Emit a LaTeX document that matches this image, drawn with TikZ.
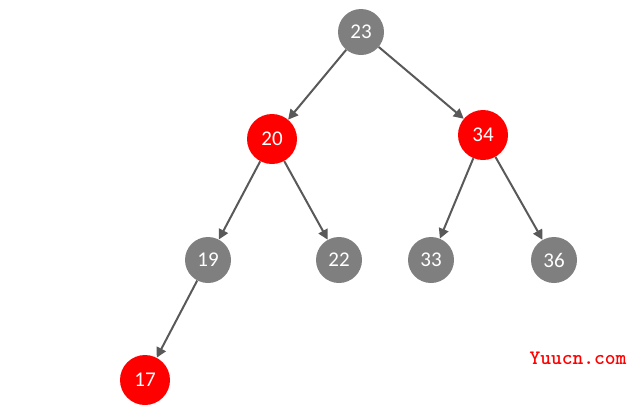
\documentclass[tikz,border=0pt]{standalone}
\usepackage{fontspec}
\setmainfont{Carlito}
\usepackage{xcolor}
\usepackage{tikz}
\usetikzlibrary{arrows.meta}
\definecolor{nodegray}{RGB}{127, 127, 127}
\definecolor{nodered}{RGB}{255, 0, 0}
\definecolor{edgegray}{RGB}{89, 89, 89}

\begin{document}
\begin{tikzpicture}[x=1pt, y=-1pt,
    blacknode/.style={circle, fill=nodegray, inner sep=0pt, minimum size=46pt, text=white, font=\fontsize{21}{21}\selectfont},
    rednode/.style={blacknode, fill=nodered, minimum size=50pt},
    edge/.style={draw=edgegray, line width=2pt, -{Triangle[length=10pt, width=10pt]}}]
    \useasboundingbox (0,0) rectangle (639,413);
    % tree nodes
    \node[blacknode] (n23) at (361,32) {23};
    \node[rednode] (n20) at (272,139) {20};
    \node[rednode] (n34) at (483,135) {34};
    \node[blacknode] (n19) at (208,260) {19};
    \node[blacknode] (n22) at (339,260) {22};
    \node[blacknode] (n33) at (431,260) {33};
    \node[blacknode] (n36) at (554,260) {36};
    \node[rednode] (n17) at (145,380) {17};
    % edges
    \draw[edge] (n23) -- (n20);
    \draw[edge] (n23) -- (n34);
    \draw[edge] (n20) -- (n19);
    \draw[edge] (n20) -- (n22);
    \draw[edge] (n34) -- (n33);
    \draw[edge] (n34) -- (n36);
    \draw[edge] (n19) -- (n17);
    % watermark
    \node[text=nodered, font=\ttfamily\bfseries\fontsize{20.5}{20.5}\selectfont] (mark) at (578,358) {Yuucn.com};
\end{tikzpicture}
\end{document}
